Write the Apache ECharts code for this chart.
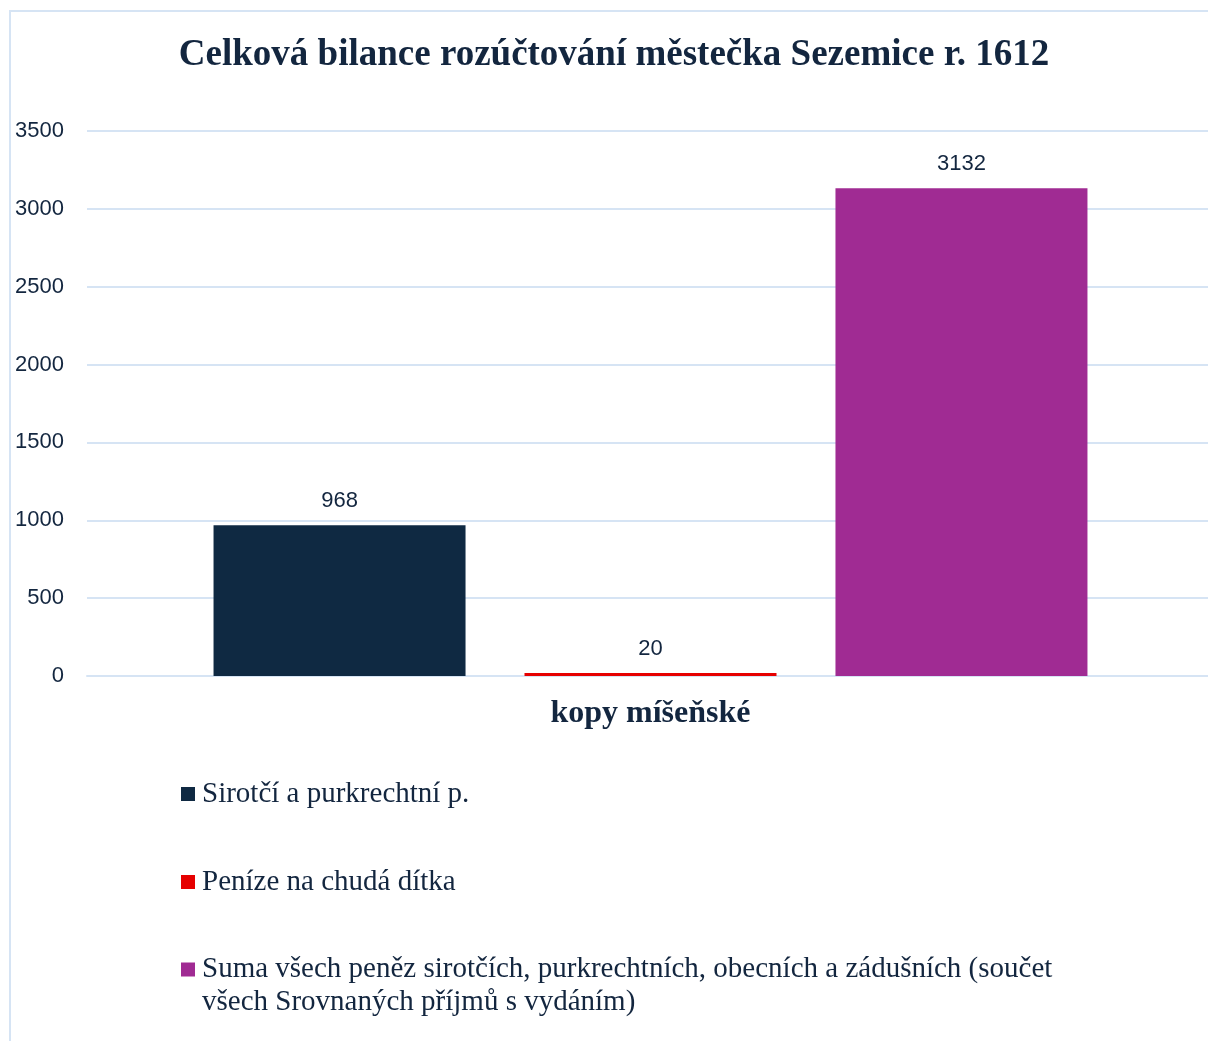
<!DOCTYPE html>
<html>
<head>
<meta charset="utf-8">
<style>
  html, body { margin: 0; padding: 0; background: #fff; overflow: hidden; }
  #chart { width: 1214px; height: 1041px; }
  #frame { position: absolute; left: 9px; top: 10px; width: 1250px; height: 1100px;
           border: 2px solid #d6e4f4; box-sizing: border-box; pointer-events: none; }
</style>
<script src="https://cdn.jsdelivr.net/npm/echarts@6/dist/echarts.min.js"></script>
</head>
<body>
<div id="chart"></div>
<div id="frame"></div>
<script>
    // data
    const categories = ['kopy míšeňské'];
    const seriesNames = [
        'Sirotčí a purkrechtní p.',
        'Peníze na chudá dítka',
        'Suma všech peněz sirotčích, purkrechtních, obecních a zádušních (součet všech Srovnaných příjmů s vydáním)'
    ];
    const seriesValues = [[968], [20], [3132]];
    const seriesColors = ['#0f2942', '#e60000', '#a02b93'];
    const yTicks = [0, 500, 1000, 1500, 2000, 2500, 3000, 3500];

    const textColor = '#13263f';
    const serif = '"Liberation Serif", "Times New Roman", serif';
    const sans = '"Liberation Sans", Arial, sans-serif';

    let series = seriesNames.map((name, i) => ({
        name: name,
        type: 'bar',
        data: seriesValues[i],
        barWidth: 252,
        barGap: '23.4%',
        itemStyle: { color: seriesColors[i] },
        label: {
            show: true,
            position: 'top',
            distance: 13,
            color: textColor,
            fontFamily: sans,
            fontSize: 22
        }
    }));

    // wrap the long legend entry where the original breaks it, and put an empty
    // line in front so the icon sits on the first real line
    let legendText = (n) => {
        let cut = n.indexOf(' všech Srovnaných');
        if (cut < 0) return n;
        return '\n' + n.slice(0, cut) + '\n' + n.slice(cut + 1);
    };

    // one legend per item so the wrapped one lines up like the original
    let legendTops = [779, 867, 920];
    let legends = seriesNames.map((name, i) => ({
        data: [name],
        orient: 'vertical',
        left: 181,
        top: legendTops[i],
        padding: 0,
        itemWidth: 14,
        itemHeight: 14,
        icon: 'rect',
        itemGap: 0,
        selectedMode: false,
        formatter: legendText,
        textStyle: {
            color: textColor,
            fontFamily: serif,
            fontSize: 29,
            lineHeight: i === 2 ? 33 : 30,
            padding: [0, 0, 0, 2]
        }
    }));

    let chart = echarts.init(document.getElementById('chart'), null, { renderer: 'canvas' });
    chart.setOption({
        backgroundColor: '#fff',
        animation: false,
        title: {
            text: 'Celková bilance rozúčtování městečka Sezemice r. 1612',
            left: 614 - 5,
            textAlign: 'center',
            top: 32,
            textStyle: {
                color: textColor,
                fontFamily: serif,
                fontWeight: 'bold',
                fontSize: 37
            }
        },
        legend: legends,
        grid: {
            left: 87,
            right: 0,
            top: 131,
            bottom: 1041 - 676,
            containLabel: false
        },
        xAxis: {
            type: 'category',
            data: categories,
            axisLine: { show: true, lineStyle: { color: '#d6e4f4', width: 2 } },
            axisTick: { show: false },
            axisLabel: {
                margin: 22,
                color: textColor,
                fontFamily: serif,
                fontWeight: 'bold',
                fontSize: 32
            }
        },
        yAxis: {
            type: 'value',
            min: yTicks[0],
            max: yTicks[yTicks.length - 1],
            interval: yTicks[1] - yTicks[0],
            axisLine: { show: false },
            axisTick: { show: false },
            splitLine: { lineStyle: { color: '#d6e4f4', width: 2 } },
            axisLabel: {
                margin: 23,
                color: textColor,
                fontFamily: sans,
                fontSize: 22,
                formatter: (v) => String(v)
            }
        },
        series: series
    });
</script>
</body>
</html>
